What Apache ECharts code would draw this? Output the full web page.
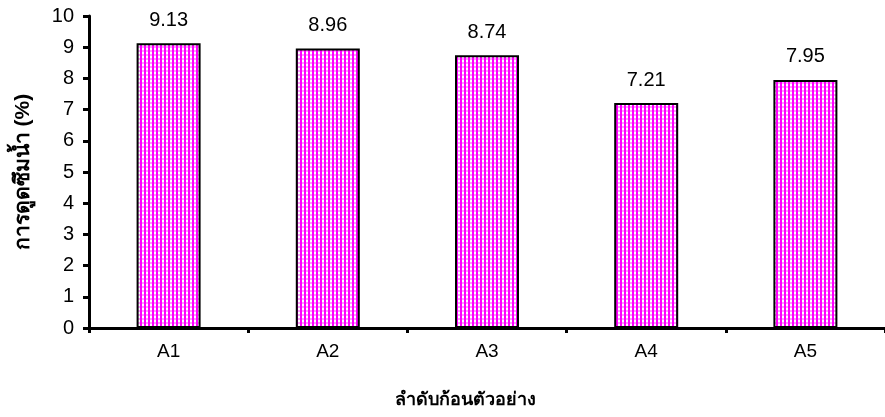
<!DOCTYPE html>
<html>
<head>
<meta charset="utf-8">
<script src="https://cdn.jsdelivr.net/npm/echarts@6/dist/echarts.min.js"></script>
<style>
  html, body { margin: 0; padding: 0; background: #fff; }
  #chart { width: 885px; height: 417px; }
</style>
</head>
<body>
<div id="chart"></div>
<script>
// Water absorption of each sample block
const categories = ['A1', 'A2', 'A3', 'A4', 'A5'];
const absorption = [9.13, 8.96, 8.74, 7.21, 7.95];
const yTicks = [0, 1, 2, 3, 4, 5, 6, 7, 8, 9, 10];

const yTitle = 'การดูดซึมน้ำ (%)';
const xTitle = 'ลำดับก้อนตัวอย่าง';

const FONT = '"Liberation Sans", Arial, "DejaVu Sans", "Noto Sans", sans-serif';

// Magenta bar fill: solid stripes alternating with white / pale pink checks
function checkerTile() {
  const c = document.createElement('canvas');
  c.width = 4; c.height = 4;
  const g = c.getContext('2d');
  g.fillStyle = '#ff00ff';
  g.fillRect(0, 0, 4, 4);
  g.fillStyle = '#ffffff';
  g.fillRect(2, 0, 2, 2);
  g.fillStyle = '#ff9cff';
  g.fillRect(2, 2, 2, 2);
  return c;
}

const chart = echarts.init(document.getElementById('chart'), null, { renderer: 'canvas' });

chart.setOption({
  animation: false,
  backgroundColor: '#ffffff',
  grid: { left: 89, top: 16, right: -4, bottom: 89, containLabel: false },
  xAxis: {
    type: 'category',
    data: categories,
    axisLine: { lineStyle: { color: '#000', width: 3 } },
    axisTick: { show: true, length: 5, inside: false, lineStyle: { color: '#000', width: 3 } },
    axisLabel: { color: '#000', fontSize: 19, fontFamily: FONT, margin: 14 },
    splitLine: { show: false }
  },
  yAxis: {
    type: 'value',
    min: yTicks[0],
    max: yTicks[yTicks.length - 1],
    interval: 1,
    axisLine: { show: true, lineStyle: { color: '#000', width: 3 } },
    axisTick: { show: true, length: 6, inside: false, lineStyle: { color: '#000', width: 3 } },
    axisLabel: { color: '#000', fontSize: 20, fontFamily: FONT, margin: 15 },
    splitLine: { show: false }
  },
  series: [{
    type: 'bar',
    data: absorption,
    barWidth: 64,
    itemStyle: {
      color: { image: checkerTile(), repeat: 'repeat' },
      borderColor: '#000',
      borderWidth: 2
    },
    label: {
      show: true,
      position: 'top',
      distance: 13,
      color: '#000',
      fontSize: 20,
      fontFamily: FONT,
      formatter: p => p.value.toFixed(2)
    }
  }],
  graphic: [
    {
      type: 'text',
      rotation: Math.PI / 2,
      x: 23, y: 172,
      style: {
        text: yTitle,
        font: 'bold 21px ' + FONT,
        fill: '#000',
        align: 'center',
        verticalAlign: 'middle'
      }
    },
    {
      type: 'text',
      x: 465, y: 400,
      style: {
        text: xTitle,
        font: 'bold 18px ' + FONT,
        fill: '#000',
        align: 'center',
        verticalAlign: 'middle'
      }
    }
  ]
});
</script>
</body>
</html>
